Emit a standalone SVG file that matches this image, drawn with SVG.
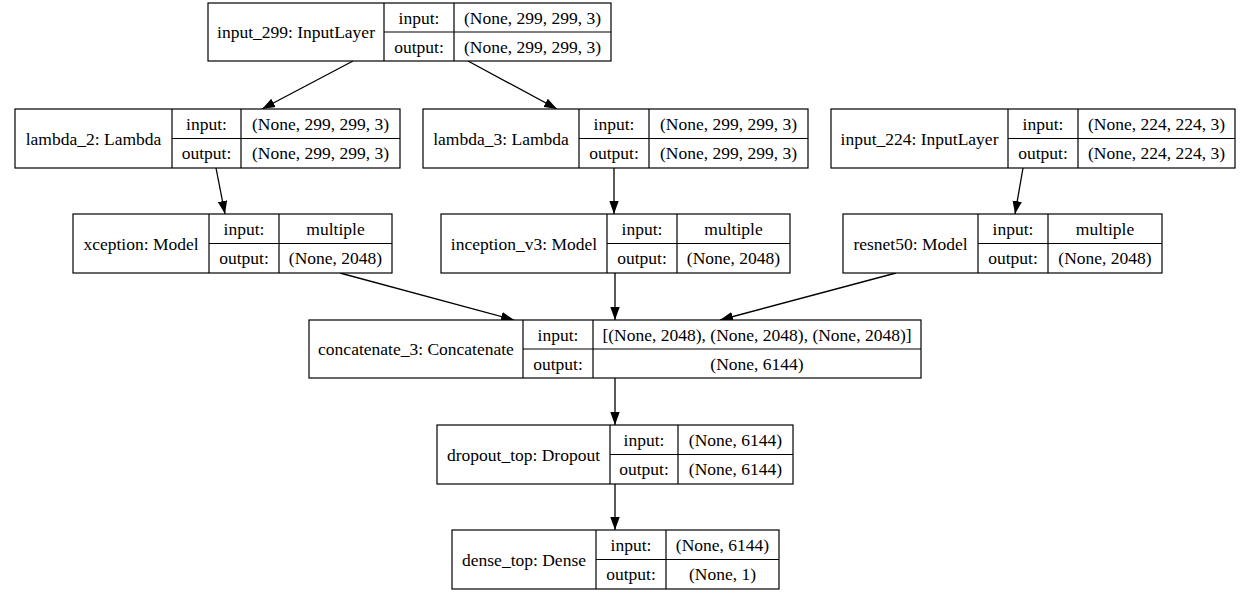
<svg xmlns="http://www.w3.org/2000/svg" width="1247" height="596" viewBox="0 0 1247 596">
<style>
.b{fill:#fff;stroke:#000;stroke-width:1.2}
.l{stroke:#000;stroke-width:1.2;fill:none}
text{font-family:"Liberation Serif","Times New Roman",serif;font-size:17.5px;fill:#000;text-anchor:middle}
.e{stroke:#000;stroke-width:1.3;fill:none;marker-end:url(#ah)}
</style>
<defs>
<marker id="ah" markerUnits="userSpaceOnUse" viewBox="0 0 13 10" markerWidth="13" markerHeight="10" refX="13" refY="5" orient="auto"><path d="M0,0.3 L13,5 L0,9.7 z" fill="#000"/></marker>
</defs>
<rect width="1247" height="596" fill="#fff"/>
<g id="connectors">
<line class="e" x1="353" y1="61" x2="262" y2="109"/>
<line class="e" x1="468" y1="61" x2="557" y2="109"/>
<line class="e" x1="216" y1="168" x2="225" y2="214"/>
<line class="e" x1="614" y1="168" x2="614" y2="214"/>
<line class="e" x1="1023" y1="168" x2="1015" y2="214"/>
<line class="e" x1="340" y1="273" x2="514" y2="320"/>
<line class="e" x1="615" y1="273" x2="615" y2="320"/>
<line class="e" x1="896" y1="273" x2="720" y2="320"/>
<line class="e" x1="615" y1="378" x2="615" y2="425"/>
<line class="e" x1="615" y1="484" x2="615" y2="530"/>
</g>
<g id="input_299">
<rect class="b" x="208" y="3" width="403" height="58"/>
<path class="l" d="M384,3V61M454,3V61M384,32H611"/>
<text x="296" y="38">input_299: InputLayer</text>
<text x="419" y="23.5">input:</text>
<text x="419" y="52.5">output:</text>
<text x="532.5" y="23.5">(None, 299, 299, 3)</text>
<text x="532.5" y="52.5">(None, 299, 299, 3)</text>
</g>
<g id="lambda_2">
<rect class="b" x="15" y="109" width="385" height="59"/>
<path class="l" d="M172,109V168M241,109V168M172,138.5H400"/>
<text x="93.5" y="144.5">lambda_2: Lambda</text>
<text x="206.5" y="130">input:</text>
<text x="206.5" y="159">output:</text>
<text x="320.5" y="130">(None, 299, 299, 3)</text>
<text x="320.5" y="159">(None, 299, 299, 3)</text>
</g>
<g id="lambda_3">
<rect class="b" x="423" y="109" width="385" height="59"/>
<path class="l" d="M579,109V168M649,109V168M579,138.5H808"/>
<text x="501" y="144.5">lambda_3: Lambda</text>
<text x="614" y="130">input:</text>
<text x="614" y="159">output:</text>
<text x="728.5" y="130">(None, 299, 299, 3)</text>
<text x="728.5" y="159">(None, 299, 299, 3)</text>
</g>
<g id="input_224">
<rect class="b" x="831" y="109" width="404" height="59"/>
<path class="l" d="M1008,109V168M1078,109V168M1008,138.5H1235"/>
<text x="919.5" y="144.5">input_224: InputLayer</text>
<text x="1043" y="130">input:</text>
<text x="1043" y="159">output:</text>
<text x="1156.5" y="130">(None, 224, 224, 3)</text>
<text x="1156.5" y="159">(None, 224, 224, 3)</text>
</g>
<g id="xception">
<rect class="b" x="73" y="214" width="319" height="59"/>
<path class="l" d="M209,214V273M279,214V273M209,243.5H392"/>
<text x="141" y="249.5">xception: Model</text>
<text x="244" y="235">input:</text>
<text x="244" y="264">output:</text>
<text x="335.5" y="235">multiple</text>
<text x="335.5" y="264">(None, 2048)</text>
</g>
<g id="inception_v3">
<rect class="b" x="441" y="214" width="349" height="59"/>
<path class="l" d="M607,214V273M677,214V273M607,243.5H790"/>
<text x="524" y="249.5">inception_v3: Model</text>
<text x="642" y="235">input:</text>
<text x="642" y="264">output:</text>
<text x="733.5" y="235">multiple</text>
<text x="733.5" y="264">(None, 2048)</text>
</g>
<g id="resnet50">
<rect class="b" x="843" y="214" width="319" height="59"/>
<path class="l" d="M978,214V273M1048,214V273M978,243.5H1162"/>
<text x="910.5" y="249.5">resnet50: Model</text>
<text x="1013" y="235">input:</text>
<text x="1013" y="264">output:</text>
<text x="1105" y="235">multiple</text>
<text x="1105" y="264">(None, 2048)</text>
</g>
<g id="concatenate_3">
<rect class="b" x="309" y="320" width="612" height="58"/>
<path class="l" d="M523,320V378M593,320V378M523,349H921"/>
<text x="416" y="355">concatenate_3: Concatenate</text>
<text x="558" y="340.5">input:</text>
<text x="558" y="369.5">output:</text>
<text x="757" y="340.5">[(None, 2048), (None, 2048), (None, 2048)]</text>
<text x="757" y="369.5">(None, 6144)</text>
</g>
<g id="dropout_top">
<rect class="b" x="437" y="425" width="356" height="59"/>
<path class="l" d="M610,425V484M678,425V484M610,454.5H793"/>
<text x="523.5" y="460.5">dropout_top: Dropout</text>
<text x="644" y="446">input:</text>
<text x="644" y="475">output:</text>
<text x="735.5" y="446">(None, 6144)</text>
<text x="735.5" y="475">(None, 6144)</text>
</g>
<g id="dense_top">
<rect class="b" x="452" y="530" width="327" height="59"/>
<path class="l" d="M596,530V589M666,530V589M596,559.5H779"/>
<text x="524" y="565.5">dense_top: Dense</text>
<text x="631" y="551">input:</text>
<text x="631" y="580">output:</text>
<text x="722.5" y="551">(None, 6144)</text>
<text x="722.5" y="580">(None, 1)</text>
</g>
</svg>
